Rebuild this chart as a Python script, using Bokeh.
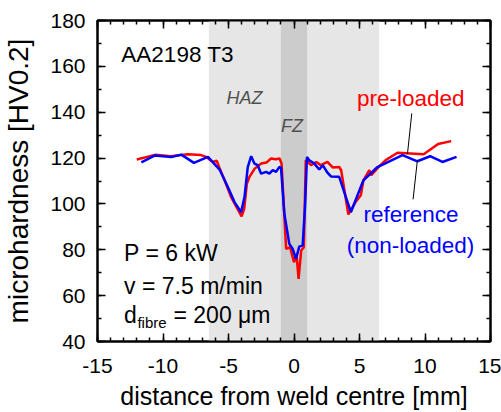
from bokeh.plotting import figure
from bokeh.models import (BoxAnnotation, Label, LinearAxis, SingleIntervalTicker,
                          Range1d, CustomJSTickFormatter)
from bokeh.embed import file_html
from bokeh.resources import INLINE

# Microhardness profiles across the weld (distance in mm, hardness in HV0.2)
x_pre = [-12.0, -10.6, -9.4, -8.1, -7.1, -6.7, -6.2, -5.9, -5.7, -5.3, -4.8,
         -4.0, -3.8, -3.6, -3.4, -3.0, -2.5, -2.1, -1.75, -1.4, -1.1, -0.95,
         -0.6, -0.3, 0.0, 0.2, 0.35, 0.55, 0.75, 0.9, 1.3, 1.7, 2.05, 2.55,
         2.95, 3.45, 3.6, 4.15, 4.7, 5.1, 5.3, 5.75, 5.9, 6.5, 7.0, 7.9, 9.9,
         11.0, 12.0]
hv_pre = [119.4, 121.4, 120.8, 121.7, 121.3, 120.5, 118.3, 118.8, 115.9, 110.3,
          103.0, 94.6, 97.9, 108.8, 111.8, 115.4, 117.6, 118.1, 119.8, 119.5,
          119.8, 117.6, 80.4, 81.1, 74.6, 77.5, 67.3, 79.7, 81.1, 119.1, 116.9,
          118.3, 116.9, 118.3, 115.9, 116.1, 114.7, 95.4, 100.8, 103.8, 110.3,
          114.7, 112.5, 116.4, 119.1, 122.3, 121.7, 126.1, 127.4]

x_ref = [-11.65, -10.65, -9.37, -8.6, -7.64, -6.57, -5.68, -5.05, -4.54, -4.04,
         -3.78, -3.53, -3.27, -3.02, -2.77, -2.51, -2.13, -1.88, -1.62, -1.37,
         -1.12, -0.99, -0.74, -0.36, -0.1, 0.15, 0.4, 0.66, 0.84, 0.99, 1.17,
         1.55, 1.93, 2.19, 2.57, 2.82, 3.45, 4.34, 5.3, 6.37, 8.28, 9.42,
         10.39, 11.33, 12.41]
hv_ref = [118.1, 121.1, 120.5, 121.5, 117.9, 120.5, 115.0, 107.4, 100.8, 96.4,
          103.0, 116.1, 120.8, 117.6, 116.9, 113.2, 114.0, 113.2, 114.7, 114.0,
          116.1, 115.8, 95.9, 82.6, 80.4, 76.0, 81.4, 81.9, 98.6, 120.5, 119.0,
          117.6, 115.0, 116.9, 113.5, 112.0, 111.8, 96.4, 110.3, 116.1, 121.3,
          118.6, 120.8, 118.3, 120.5]

# Weld zones
haz_bounds = [-6.5, 6.5]
fz_bounds = [-1.0, 1.0]

FONT = "Liberation Sans"

p = figure(width=501, height=412, output_backend="svg", toolbar_location=None,
           x_range=Range1d(-15, 15), y_range=Range1d(40, 180),
           min_border_left=96, min_border_right=11, min_border_top=20,
           min_border_bottom=71)
p.outline_line_color = "black"
p.outline_line_width = 2
p.xgrid.visible = False
p.ygrid.visible = False
p.background_fill_color = "white"
p.border_fill_color = "white"

xt = SingleIntervalTicker(interval=5, num_minor_ticks=5)
yt = SingleIntervalTicker(interval=20, num_minor_ticks=2)

# plain hyphen-minus tick labels
plain_fmt = CustomJSTickFormatter(code="return tick.toFixed(0);")
blank_fmt = CustomJSTickFormatter(code="return '';")


def style_axis(ax, labels=True):
    ax.axis_line_width = 2
    ax.axis_line_color = "black"
    ax.major_tick_in = 8
    ax.major_tick_out = 0
    ax.minor_tick_in = 4
    ax.minor_tick_out = 0
    ax.major_tick_line_width = 1.5
    ax.minor_tick_line_width = 1.5
    ax.major_tick_line_color = "black"
    ax.minor_tick_line_color = "black"
    ax.major_label_text_font = FONT
    ax.major_label_text_color = "black"
    ax.major_label_text_font_size = "21px"
    if labels:
        ax.formatter = plain_fmt
    else:
        ax.formatter = blank_fmt
        ax.major_label_standoff = 0


xa = p.xaxis[0]
xa.ticker = xt
style_axis(xa)
xa.major_label_standoff = 17
xa.axis_label = "distance from weld centre [mm]"
xa.axis_label_text_font = FONT
xa.axis_label_text_font_size = "25px"
xa.axis_label_text_font_style = "normal"
xa.axis_label_text_color = "black"
xa.axis_label_standoff = 6

ya = p.yaxis[0]
ya.ticker = yt
style_axis(ya)
ya.major_label_standoff = 12
ya.axis_label = "microhardness [HV0.2]"
ya.axis_label_text_font = FONT
ya.axis_label_text_font_size = "28px"
ya.axis_label_text_font_style = "normal"
ya.axis_label_text_color = "black"
ya.axis_label_standoff = 13

top_ax = LinearAxis(ticker=xt)
style_axis(top_ax, labels=False)
p.add_layout(top_ax, "above")
right_ax = LinearAxis(ticker=yt)
style_axis(right_ax, labels=False)
p.add_layout(right_ax, "right")

# Zone shading
p.add_layout(BoxAnnotation(left=haz_bounds[0], right=haz_bounds[1],
                           fill_color="#e6e6e6", fill_alpha=1, line_alpha=0,
                           level="underlay"))
p.add_layout(BoxAnnotation(left=fz_bounds[0], right=fz_bounds[1],
                           fill_color="#cccccc", fill_alpha=1, line_alpha=0,
                           level="underlay"))

# Profiles
p.line(x_pre, hv_pre, line_color="#ff0000", line_width=2.5)
p.line(x_ref, hv_ref, line_color="#0000ff", line_width=2.5)

# Leader lines for the curve labels
p.segment(x0=[8.99, 9.42], y0=[139.5, 119.1], x1=[8.66, 9.09], y1=[121.7, 102.0],
          line_color="black", line_width=1)


def add_text(x, y, text, size, color="black", align="left", style="normal"):
    p.add_layout(Label(x=x, y=y, text=text, text_font=FONT,
                       text_font_size=size, text_color=color,
                       text_align=align, text_baseline="alphabetic",
                       text_font_style=style))


add_text(-13.18, 165.2, "AA2198 T3", "22.5px")
add_text(-3.77, 146.0, "HAZ", "18px", color="#505050", align="center", style="italic")
add_text(-0.15, 134.0, "FZ", "18px", color="#505050", align="center", style="italic")
add_text(8.91, 145.9, "pre-loaded", "22.5px", color="#ff0000", align="center")
add_text(8.93, 95.2, "reference", "22.5px", color="#0000ff", align="center")
add_text(8.89, 81.8, "(non-loaded)", "22.5px", color="#0000ff", align="center")
add_text(-12.97, 78.5, "P = 6 kW", "23px")
add_text(-12.97, 64.3, "v = 7.5 m/min", "23px")
add_text(-12.97, 51.4, "d", "23px")
add_text(-11.95, 48.2, "fibre", "15px")
add_text(-9.2, 51.4, "= 200  \u03bcm", "23px")

open("out.html", "w").write(file_html(p, INLINE))
